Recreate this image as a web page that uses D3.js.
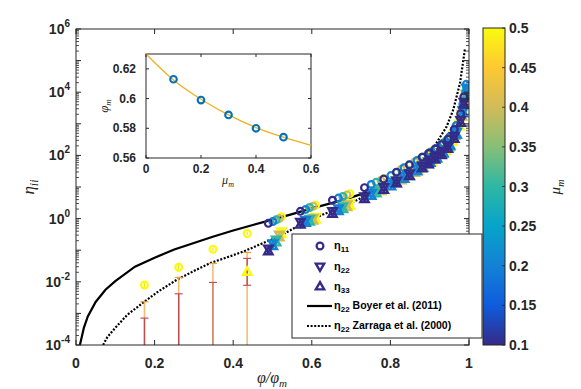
<!DOCTYPE html>
<html>
<head>
<meta charset="utf-8">
<script src="https://cdn.jsdelivr.net/npm/d3@7"></script>
<style>
  body { margin: 0; background: #fff; }
  svg { display: block; font-family: "Liberation Sans", Arial, sans-serif; }
</style>
</head>
<body>
<svg width="581" height="389"></svg>
<script>
// ---- data ----
const muValues = [0.1, 0.2, 0.3, 0.4, 0.5];
const phiMax = [0.613, 0.599, 0.589, 0.580, 0.574];

// inset fit curve phi_m(mu_m)
const fitMu = [0, 0.1, 0.2, 0.3, 0.4, 0.5, 0.6];
const fitPhiM = [0.630, 0.6125, 0.5995, 0.589, 0.5805, 0.574, 0.5685];

// Boyer et al. (2011)
const boyerX = [0.008, 0.01, 0.02, 0.03, 0.05, 0.075, 0.1, 0.15, 0.2, 0.25, 0.3, 0.35, 0.4, 0.45, 0.5, 0.55, 0.6, 0.65, 0.7, 0.75, 0.8, 0.85, 0.9, 0.93, 0.95, 0.97, 0.98, 0.99];
const boyerY = [6e-5, 1.0e-4, 3.5e-4, 8e-4, 2.3e-3, 5.6e-3, 0.0105, 0.03, 0.058, 0.105, 0.17, 0.27, 0.42, 0.63, 0.93, 1.38, 2.1, 3.1, 4.7, 7.4, 12.8, 25, 63, 140, 285, 820, 1900, 7800];

// Zarraga et al. (2000)
const zarragaX = [0.069, 0.08, 0.1, 0.13, 0.171, 0.21, 0.256, 0.3, 0.341, 0.39, 0.43, 0.475, 0.519, 0.56, 0.604, 0.65, 0.689, 0.75, 0.8, 0.85, 0.9, 0.943, 0.96, 0.977, 0.99];
const zarragaY = [1e-4, 1.8e-4, 3.5e-4, 8.9e-4, 2.2e-3, 5e-3, 0.0115, 0.022, 0.039, 0.063, 0.095, 0.166, 0.28, 0.54, 1.0, 1.74, 2.7, 6.3, 12.6, 32, 112, 810, 2800, 19000, 250000];

// simulation data, log10 of eta (null = not shown)
const phi_mu1 = [0.30, 0.35, 0.40, 0.45, 0.48, 0.50, 0.52, 0.54, 0.55, 0.56, 0.57, 0.58, 0.59, 0.60, 0.605];
const eta11_mu1 = [-0.15, 0.23, 0.58, 0.98, 1.25, 1.47, 1.70, 1.94, 2.06, 2.20, 2.34, 2.51, 2.82, 3.32, 3.85];
const eta22_mu1 = [-0.93, -0.09, 0.25, 0.72, 1.01, 1.22, 1.45, 1.69, 1.82, 1.97, 2.11, 2.31, 2.63, 3.13, 3.71];
const eta33_mu1 = [-1.05, -0.21, 0.13, 0.60, 0.89, 1.10, 1.33, 1.57, 1.70, 1.85, 1.99, 2.19, 2.51, 3.01, 3.59];

const phi_mu2 = [0.30, 0.35, 0.40, 0.45, 0.48, 0.50, 0.52, 0.54, 0.55, 0.56, 0.57, 0.58, 0.59, 0.595];
const eta11_mu2 = [-0.09, 0.29, 0.65, 1.08, 1.36, 1.61, 1.84, 2.10, 2.23, 2.39, 2.60, 2.95, 3.63, 4.25];
const eta22_mu2 = [-0.77, -0.03, 0.34, 0.82, 1.12, 1.36, 1.60, 1.87, 2.01, 2.17, 2.41, 2.76, 3.44, 4.16];
const eta33_mu2 = [-0.89, -0.15, 0.22, 0.70, 1.00, 1.24, 1.48, 1.75, 1.89, 2.05, 2.29, 2.64, 3.32, 4.04];

const phi_mu3 = [0.30, 0.35, 0.40, 0.45, 0.48, 0.50, 0.52, 0.54, 0.55, 0.56, 0.57, 0.58, 0.585];
const eta11_mu3 = [-0.04, 0.35, 0.70, 1.15, 1.46, 1.71, 1.95, 2.22, 2.38, 2.57, 2.95, 3.63, 4.10];
const eta22_mu3 = [-0.65, 0.01, 0.40, 0.90, 1.22, 1.45, 1.71, 2.00, 2.16, 2.38, 2.76, 3.44, 3.96];
const eta33_mu3 = [-0.77, -0.11, 0.28, 0.78, 1.10, 1.33, 1.59, 1.88, 2.04, 2.26, 2.64, 3.32, 3.84];

const phi_mu4 = [0.30, 0.35, 0.40, 0.45, 0.48, 0.50, 0.52, 0.54, 0.55, 0.56, 0.57, 0.575];
const eta11_mu4 = [0.00, 0.39, 0.75, 1.21, 1.56, 1.80, 2.06, 2.35, 2.53, 2.91, 3.52, 3.96];
const eta22_mu4 = [-0.49, 0.04, 0.47, 0.97, 1.31, 1.55, 1.82, 2.12, 2.33, 2.72, 3.33, 3.78];
const eta33_mu4 = [-0.61, -0.08, 0.35, 0.85, 1.19, 1.43, 1.70, 2.00, 2.21, 2.60, 3.21, 3.66];

const phi_mu5 = [0.10, 0.15, 0.20, 0.25, 0.30, 0.35, 0.40, 0.45, 0.48, 0.50, 0.52, 0.54, 0.55, 0.56, 0.57];
const eta11_mu5 = [-2.10, -1.54, -0.97, -0.47, 0.06, 0.42, 0.79, 1.26, 1.61, 1.86, 2.13, 2.46, 2.73, 3.21, 4.08];
const eta22_mu5 = [null, null, null, null, -0.39, 0.07, 0.51, 1.02, 1.36, 1.62, 1.90, 2.25, 2.54, 3.02, 3.92];
const eta33_mu5 = [null, null, null, -1.70, -0.51, -0.05, 0.39, 0.90, 1.24, 1.50, 1.78, 2.13, 2.42, 2.90, 3.80];

// error bars of mu = 0.5 at low phi (log10; null = below axis)
const errPhi = [0.10, 0.15, 0.20, 0.25];
const err11Lo = [-2.17, -1.68, -1.02, -0.52];
const err11Hi = [-2.03, -1.44, -0.92, -0.42];
const err22Hi = [-2.63, -1.86, -1.42, -1.07];
const err33Lo = [null, null, null, -2.11];
const err33Hi = [-3.15, -2.38, -2.02, -1.26];

const parula = ["#352a87", "#0f5cdd", "#1481d6", "#06a4ca", "#2eb7a4", "#87bf77", "#d1bb59", "#fec832", "#f9fb0e"];

// ---- chart ----
const svg = d3.select("svg");
const axisColor = "#262626";

const x = d3.scaleLinear().domain([0, 1]).range([76, 469]);
const y = d3.scaleLog().domain([1e-4, 1e6]).range([345, 29]);
const color = d3.scaleLinear()
    .domain(parula.map((c, i) => 0.1 + 0.4 * i / (parula.length - 1)))
    .range(parula);

svg.append("defs").append("clipPath").attr("id", "plotClip")
    .append("rect").attr("x", 76).attr("y", 29).attr("width", 393).attr("height", 316);

const plot = svg.append("g").attr("clip-path", "url(#plotClip)");

// reference curves
const line = d3.line().x(d => x(d[0])).y(d => y(d[1]));
plot.append("path")
    .attr("d", line(d3.zip(boyerX, boyerY)))
    .attr("fill", "none").attr("stroke", "#000").attr("stroke-width", 2.2);
plot.append("path")
    .attr("d", line(d3.zip(zarragaX, zarragaY)))
    .attr("fill", "none").attr("stroke", "#000").attr("stroke-width", 2.2)
    .attr("stroke-dasharray", "2,1.6");

// error bars
const pow = v => Math.pow(10, v);
const bottomY = y(1e-4) + 2;
const hbar = (g, xe, v, col) => g.append("line").attr("x1", xe - 4).attr("x2", xe + 4)
    .attr("y1", y(pow(v))).attr("y2", y(pow(v))).attr("stroke", col).attr("stroke-width", 1.2);
errPhi.forEach((p, i) => {
    const xe = x(p / phiMax[4]);
    // eta22 (orange)
    plot.append("line").attr("x1", xe).attr("x2", xe)
        .attr("y1", bottomY).attr("y2", y(pow(err22Hi[i])))
        .attr("stroke", "#f3b25a").attr("stroke-width", 1.6).attr("opacity", 0.85);
    hbar(plot, xe, err22Hi[i], "#ef9f38");
    // eta33 (red)
    const lo = err33Lo[i] === null ? bottomY : y(pow(err33Lo[i]));
    plot.append("line").attr("x1", xe).attr("x2", xe)
        .attr("y1", lo).attr("y2", y(pow(err33Hi[i])))
        .attr("stroke", "#b8404a").attr("stroke-width", 1.4).attr("opacity", i === 2 ? 0.55 : 0.9);
    [err33Lo[i], err33Hi[i]].forEach(v => { if (v !== null) hbar(plot, xe, v, "#c0505a"); });
    // eta11 (yellow, small)
    plot.append("line").attr("x1", xe).attr("x2", xe)
        .attr("y1", y(pow(err11Lo[i]))).attr("y2", y(pow(err11Hi[i])))
        .attr("stroke", "#f0e020").attr("stroke-width", 1.2);
});

// scatter markers
const series = [
    [phi_mu1, eta11_mu1, eta22_mu1, eta33_mu1],
    [phi_mu2, eta11_mu2, eta22_mu2, eta33_mu2],
    [phi_mu3, eta11_mu3, eta22_mu3, eta33_mu3],
    [phi_mu4, eta11_mu4, eta22_mu4, eta33_mu4],
    [phi_mu5, eta11_mu5, eta22_mu5, eta33_mu5]
];
const triUp = d3.symbol().type(d3.symbolTriangle).size(30)();
const markers = plot.append("g");
const drawCircle = (g, cx, cy, col) => g.append("circle").attr("cx", cx).attr("cy", cy).attr("r", 3.4)
    .attr("fill", "none").attr("stroke", col).attr("stroke-width", 2.2);
const drawTri = (g, cx, cy, col, down) => g.append("path").attr("d", triUp)
    .attr("transform", `translate(${cx},${cy})` + (down ? " rotate(180)" : ""))
    .attr("fill", "none").attr("stroke", col).attr("stroke-width", 2.4).attr("stroke-linejoin", "miter");
for (let k = series.length - 1; k >= 0; k--) {
    const [phis, e11, e22, e33] = series[k];
    const col = color(muValues[k]);
    phis.forEach((p, i) => {
        const xp = x(p / phiMax[k]);
        if (e11[i] !== null) drawCircle(markers, xp, y(pow(e11[i])), col);
        if (e22[i] !== null) drawTri(markers, xp, y(pow(e22[i])), col, true);
        if (e33[i] !== null) drawTri(markers, xp, y(pow(e33[i])), col, false);
    });
}

// axes frame and ticks
const axes = svg.append("g").attr("stroke", axisColor).attr("fill", "none");
axes.append("rect").attr("x", 76).attr("y", 29).attr("width", 393).attr("height", 316).attr("stroke-width", 1);

const xTicks = [0, 0.2, 0.4, 0.6, 0.8, 1];
xTicks.forEach(t => {
    axes.append("line").attr("x1", x(t)).attr("x2", x(t)).attr("y1", 345).attr("y2", 340);
    axes.append("line").attr("x1", x(t)).attr("x2", x(t)).attr("y1", 29).attr("y2", 34);
});
for (let e = -4; e <= 6; e++) {
    const yy = y(Math.pow(10, e));
    axes.append("line").attr("x1", 76).attr("x2", 81).attr("y1", yy).attr("y2", yy);
    axes.append("line").attr("x1", 469).attr("x2", 464).attr("y1", yy).attr("y2", yy);
    if (e < 6) {
        for (let m = 2; m <= 9; m++) {
            const ym = y(m * Math.pow(10, e));
            axes.append("line").attr("x1", 76).attr("x2", 79).attr("y1", ym).attr("y2", ym).attr("stroke-width", 0.8);
            axes.append("line").attr("x1", 469).attr("x2", 466).attr("y1", ym).attr("y2", ym).attr("stroke-width", 0.8);
        }
    }
}

svg.append("g").selectAll("text").data(xTicks).join("text")
    .attr("x", d => x(d)).attr("y", 368)
    .attr("text-anchor", "middle").attr("font-size", 14).attr("font-weight", "bold").attr("fill", axisColor)
    .text(d => d);

const yLabels = [-4, -2, 0, 2, 4, 6];
yLabels.forEach(e => {
    const t = svg.append("text").attr("x", 70).attr("y", y(Math.pow(10, e)) + 5)
        .attr("text-anchor", "end").attr("font-weight", "bold").attr("fill", axisColor);
    t.append("tspan").attr("font-size", 14).text("10");
    t.append("tspan").attr("font-size", 10).attr("dy", -7).text(e);
});

// axis labels
svg.append("text").attr("transform", "translate(34,187) rotate(-90)")
    .attr("text-anchor", "middle").attr("font-family", "Liberation Serif, serif").attr("font-style", "italic")
    .attr("font-size", 17).attr("fill", axisColor)
    .call(t => { t.append("tspan").text("η"); t.append("tspan").attr("font-size", 12).attr("dy", 4).text("ii"); });

svg.append("text").attr("x", 272).attr("y", 383)
    .attr("text-anchor", "middle").attr("font-family", "Liberation Serif, serif").attr("font-style", "italic")
    .attr("font-size", 16).attr("fill", axisColor)
    .call(t => {
        t.append("tspan").text("φ/φ");
        t.append("tspan").attr("font-size", 11).attr("dy", 4).text("m");
    });

// legend
const lg = svg.append("g");
lg.append("rect").attr("x", 292).attr("y", 234).attr("width", 190).attr("height", 104)
    .attr("fill", "#fff").attr("stroke", axisColor).attr("stroke-width", 1);
const navy = color(0.1);
drawCircle(lg, 320, 246, navy);
drawTri(lg, 320, 266, navy, true);
drawTri(lg, 320, 287, navy, false);
lg.append("line").attr("x1", 307).attr("x2", 332).attr("y1", 306).attr("y2", 306)
    .attr("stroke", "#000").attr("stroke-width", 2.2);
lg.append("line").attr("x1", 307).attr("x2", 332).attr("y1", 326).attr("y2", 326)
    .attr("stroke", "#000").attr("stroke-width", 2.2).attr("stroke-dasharray", "2,1.6");

const legendItems = [
    { y: 249, sub: "11", rest: "" },
    { y: 270, sub: "22", rest: "" },
    { y: 290, sub: "33", rest: "" },
    { y: 309, sub: "22", rest: " Boyer et al. (2011)" },
    { y: 329, sub: "22", rest: " Zarraga et al. (2000)" }
];
legendItems.forEach(d => {
    const t = lg.append("text").attr("x", 334).attr("y", d.y)
        .attr("font-size", 11).attr("font-weight", "bold").attr("fill", "#000");
    t.append("tspan").text("η");
    t.append("tspan").attr("font-size", 8).attr("dy", 3).text(d.sub);
    if (d.rest) t.append("tspan").attr("dy", -3).attr("font-size", 10.5).text(d.rest);
});

// colorbar
const cb = d3.scaleLinear().domain([0.1, 0.5]).range([345, 28]);
const grad = svg.select("defs").append("linearGradient").attr("id", "parula")
    .attr("x1", 0).attr("y1", 1).attr("x2", 0).attr("y2", 0);
parula.forEach((c, i) => grad.append("stop").attr("offset", i / (parula.length - 1)).attr("stop-color", c));
svg.append("rect").attr("x", 483).attr("y", 28).attr("width", 22).attr("height", 317)
    .attr("fill", "url(#parula)").attr("stroke", axisColor).attr("stroke-width", 1);
const cbTicks = d3.range(0.1, 0.5001, 0.05);
cbTicks.forEach(t => {
    svg.append("line").attr("x1", 505).attr("x2", 502).attr("y1", cb(t)).attr("y2", cb(t))
        .attr("stroke", axisColor).attr("stroke-width", 0.8);
    svg.append("text").attr("x", 509).attr("y", cb(t) + 5)
        .attr("font-size", 14).attr("font-weight", "bold").attr("fill", axisColor)
        .text(d3.format("~g")(+t.toFixed(2)));
});
svg.append("text").attr("transform", "translate(560,187) rotate(-90)")
    .attr("text-anchor", "middle").attr("font-family", "Liberation Serif, serif").attr("font-style", "italic")
    .attr("font-size", 15).attr("fill", axisColor)
    .call(t => { t.append("tspan").text("μ"); t.append("tspan").attr("font-size", 10).attr("dy", 4).text("m"); });

// inset
const ix = d3.scaleLinear().domain([0, 0.6]).range([146, 311]);
const iy = d3.scaleLinear().domain([0.56, 0.63]).range([158, 54]);
const inset = svg.append("g");
inset.append("rect").attr("x", 146).attr("y", 54).attr("width", 165).attr("height", 104)
    .attr("fill", "#fff").attr("stroke", axisColor).attr("stroke-width", 1);
inset.append("path")
    .attr("d", d3.line().curve(d3.curveMonotoneX).x(d => ix(d[0])).y(d => iy(d[1]))(d3.zip(fitMu, fitPhiM)))
    .attr("fill", "none").attr("stroke", "#edb120").attr("stroke-width", 1.3);
inset.selectAll("circle.pt").data(d3.zip(muValues, phiMax)).join("circle")
    .attr("cx", d => ix(d[0])).attr("cy", d => iy(d[1])).attr("r", 3.3)
    .attr("fill", "none").attr("stroke", "#0072bd").attr("stroke-width", 2.1);
[0, 0.2, 0.4, 0.6].forEach(t => {
    inset.append("line").attr("x1", ix(t)).attr("x2", ix(t)).attr("y1", 158).attr("y2", 155).attr("stroke", axisColor);
    inset.append("line").attr("x1", ix(t)).attr("x2", ix(t)).attr("y1", 54).attr("y2", 57).attr("stroke", axisColor);
    inset.append("text").attr("x", ix(t)).attr("y", 173).attr("text-anchor", "middle")
        .attr("font-size", 12).attr("font-weight", "bold").attr("fill", axisColor).text(t);
});
[0.56, 0.58, 0.6, 0.62].forEach(t => {
    inset.append("line").attr("x1", 146).attr("x2", 149).attr("y1", iy(t)).attr("y2", iy(t)).attr("stroke", axisColor);
    inset.append("line").attr("x1", 311).attr("x2", 308).attr("y1", iy(t)).attr("y2", iy(t)).attr("stroke", axisColor);
    inset.append("text").attr("x", 136).attr("y", iy(t) + 4).attr("text-anchor", "end")
        .attr("font-size", 12).attr("font-weight", "bold").attr("fill", axisColor).text(t);
});
inset.append("text").attr("transform", "translate(108,106) rotate(-90)")
    .attr("text-anchor", "middle").attr("font-family", "Liberation Serif, serif").attr("font-style", "italic")
    .attr("font-size", 13).attr("fill", axisColor)
    .call(t => { t.append("tspan").text("φ"); t.append("tspan").attr("font-size", 9).attr("dy", 3).text("m"); });
inset.append("text").attr("x", 228).attr("y", 184)
    .attr("text-anchor", "middle").attr("font-family", "Liberation Serif, serif").attr("font-style", "italic")
    .attr("font-size", 12).attr("fill", axisColor)
    .call(t => { t.append("tspan").text("μ"); t.append("tspan").attr("font-size", 8).attr("dy", 3).text("m"); });
</script>
</body>
</html>
